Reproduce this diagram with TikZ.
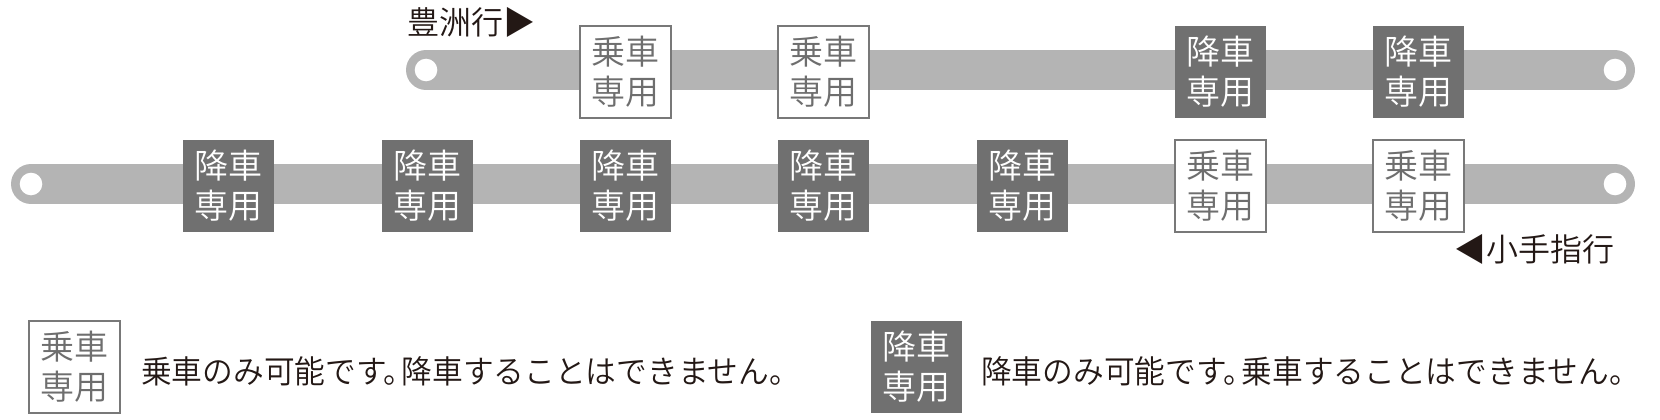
\documentclass[tikz,border=0pt]{standalone}
\usepackage{fontspec}
\newfontfamily\jp{Noto Sans CJK JP DemiLight}
\newfontfamily\jpn[FakeStretch=0.96]{Noto Sans CJK JP DemiLight}
\newfontfamily\jpl{Noto Sans CJK JP DemiLight}
\definecolor{barc}{RGB}{180,180,180}
\definecolor{darkbox}{RGB}{112,112,112}
\definecolor{boxline}{RGB}{120,120,120}
\definecolor{boxtext}{RGB}{110,110,110}
\definecolor{ink}{RGB}{35,24,21}
\begin{document}
\begin{tikzpicture}[x=1pt,y=-1pt]
\tikzset{
  bar/.style={line width=40pt, line cap=round, draw=barc},
  hole/.style={circle, fill=white, minimum size=22.6pt, inner sep=0pt},
  boxbase/.style={minimum width=91pt, minimum height=92pt, inner sep=0pt, align=center, font={\jp\fontsize{34}{40}\selectfont}},
  onbox/.style={boxbase, draw=boxline, line width=2pt, fill=white, text=boxtext},
  offbox/.style={boxbase, fill=darkbox, text=white},
  lbl/.style={text=ink, inner sep=0pt, font={\jpl\fontsize{32}{36}\selectfont}},
  legend/.style={text=ink, inner sep=0pt, font={\jpn\fontsize{32}{40}\selectfont}}
}
\useasboundingbox (0,0) rectangle (1660,420);
% bars
\coordinate (tl) at (426,70);
\coordinate (tr) at (1615,70);
\coordinate (bl) at (31,184);
\coordinate (br) at (1615,184);
\draw[bar] (tl) -- (tr);
\draw[bar] (bl) -- (br);
\node[hole] (h1) at (tl) {};
\node[hole] (h2) at (tr) {};
\node[hole] (h3) at (bl) {};
\node[hole] (h4) at (br) {};
% top row
\node[onbox]  (t1) at (625,72) {乗車\\専用};
\node[onbox]  (t2) at (823,72) {乗車\\専用};
\node[offbox] (t3) at (1220,72) {降車\\専用};
\node[offbox] (t4) at (1418,72) {降車\\専用};
% bottom row
\node[offbox] (b1) at (228,186) {降車\\専用};
\node[offbox] (b2) at (427,186) {降車\\専用};
\node[offbox] (b3) at (625,186) {降車\\専用};
\node[offbox] (b4) at (823,186) {降車\\専用};
\node[offbox] (b5) at (1022,186) {降車\\専用};
\node[onbox]  (b6) at (1220,186) {乗車\\専用};
\node[onbox]  (b7) at (1418,186) {乗車\\専用};
% direction labels
\node[lbl, anchor=west] (dir1) at (407,22.5) {豊洲行▶};
\node[lbl, anchor=east] (dir2) at (1615,249.5) {◀小手指行};
% legend
\node[onbox]  (l1) at (74,367) {乗車\\専用};
\node[legend, anchor=west] (lt1) at (141,371) {乗車のみ可能です。\kern-13pt降車することはできません。};
\node[offbox] (l2) at (916,367) {降車\\専用};
\node[legend, anchor=west] (lt2) at (981,371) {降車のみ可能です。\kern-13pt乗車することはできません。};
\end{tikzpicture}
\end{document}
